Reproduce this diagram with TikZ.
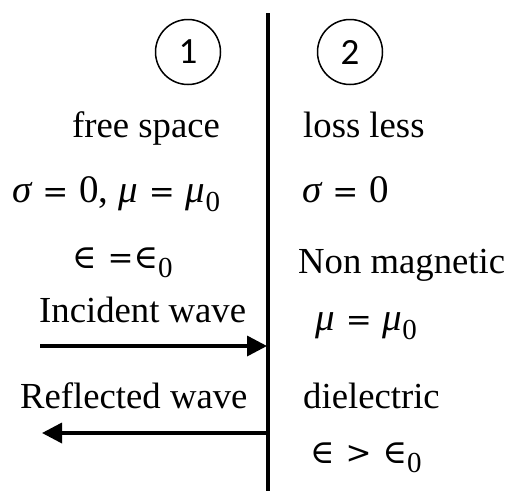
\documentclass[tikz,border=0pt]{standalone}
\usepackage{fontspec}
\setmainfont{Liberation Serif}
\newfontfamily\digitfont{Carlito}
\newfontfamily\setfont{DejaVu Serif}
\usetikzlibrary{arrows.meta}
\newcommand{\mysub}[1]{\raisebox{-9pt}{\fontsize{29}{32}\selectfont #1}}
\newcommand{\myvar}[1]{{\itshape #1}}
\newcommand{\gp}{\hspace{11pt}}
\newcommand{\elem}{{\setfont\fontsize{33}{40}\selectfont ∈}}
\newcommand{\myeq}{{\setfont\fontsize{31}{40}\selectfont =}}
\newcommand{\mygt}{{\setfont\fontsize{31}{40}\selectfont >}}
\begin{document}
\begin{tikzpicture}[x=1pt,y=-1pt,
  txt/.style={font=\fontsize{36.7}{44}\selectfont, inner sep=0pt, anchor=base west},
  sym/.style={font=\fontsize{39}{44}\selectfont, inner sep=0pt, anchor=base west},
  numcirc/.style={draw, circle, line width=1.5pt, minimum size=65pt, inner sep=0pt, font=\digitfont\fontsize{37}{44}\selectfont},
  wave/.style={line width=3.5pt, -{Triangle[length=20pt,width=20pt]}},
  wall/.style={line width=4pt}]
\useasboundingbox (0,0) rectangle (509,491);
% interface
\coordinate (wtop) at (268,13);
\coordinate (wbot) at (268,491);
\draw[wall] (wtop) -- (wbot);
% region labels
\node[numcirc] (c1) at (188,52) {1};
\node[numcirc] (c2) at (350,52) {2};
% left region
\node[txt] (fs) at (72,137) {free space};
\node[sym] (sm1) at (12,202) {\myvar{σ}\gp\myeq\gp0, \myvar{μ}\gp\myeq\gp\myvar{μ}\mysub{0}};
\node[sym] (ep1) at (72,268) {\elem\gp\myeq\elem\mysub{0}};
\node[txt] (inc) at (39,322) {Incident wave};
\node[txt] (ref) at (20,408) {Reflected wave};
% right region
\node[txt] (ll) at (303,137) {loss less};
\node[sym] (s2) at (302,202) {\myvar{σ}\gp\myeq\gp0};
\node[txt] (nm) at (298,273) {Non magnetic};
\node[sym] (mu2) at (315,330) {\myvar{μ}\gp\myeq\gp\myvar{μ}\mysub{0}};
\node[txt] (die) at (303,408) {dielectric};
\node[sym] (ep2) at (310,463) {\elem\gp\mygt\gp\elem\mysub{0}};
% waves
\coordinate (incA) at (40,346);
\coordinate (incB) at (267,346);
\coordinate (refA) at (267,433);
\coordinate (refB) at (42,433);
\draw[wave] (incA) -- (incB);
\draw[wave] (refA) -- (refB);
\end{tikzpicture}
\end{document}
